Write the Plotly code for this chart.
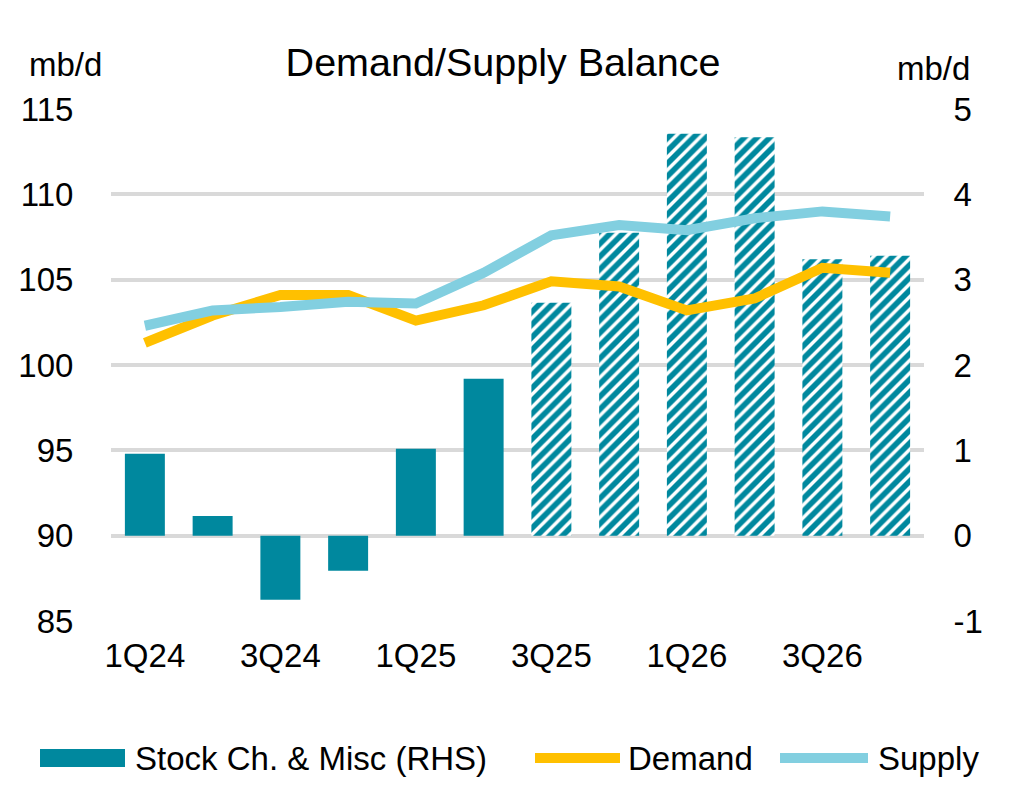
import plotly.graph_objects as go

quarters = ["1Q24", "2Q24", "3Q24", "4Q24", "1Q25", "2Q25",
            "3Q25", "4Q25", "1Q26", "2Q26", "3Q26", "4Q26"]
stock_change = [0.96, 0.23, -0.75, -0.41, 1.02, 1.84,
                2.73, 3.55, 4.71, 4.67, 3.24, 3.28]
demand = [101.3, 102.9, 104.1, 104.1, 102.6, 103.5,
          104.9, 104.6, 103.2, 103.9, 105.7, 105.4]
supply = [102.3, 103.2, 103.4, 103.7, 103.6, 105.4,
          107.6, 108.2, 107.9, 108.6, 109.0, 108.7]
n_actual = 6  # first 6 quarters are actuals, rest forecast (hatched)
rhs_ticks = [-1, 0, 1, 2, 3, 4, 5]
rhs_labels = ["-1", "0", "1", "2", "3", "4", "5"]

TEAL = "#00889e"
GOLD = "#ffc000"
LIGHTBLUE = "#82cfe0"
FONT = "Liberation Sans, Arial, sans-serif"

# the page body has an 8px margin, so work in screen px and shift
OFF = 8
W, H = 1024 - OFF, 789 - OFF
L, R, T, B = 111 - OFF, 924 - OFF, 109 - OFF, 621 - OFF


def px_x(p):
    return (p - OFF - L) / (R - L)


def px_y(p):
    return (B - (p - OFF)) / (B - T)


shapes_pat = [""] * n_actual + ["/"] * (len(quarters) - n_actual)

fig = go.Figure()

# bars on the RHS scale (base axis so the lines draw above them)
fig.add_trace(go.Bar(
    x=quarters, y=stock_change, name="Stock Ch. & Misc (RHS)",
    marker=dict(color=TEAL, line=dict(width=0),
                pattern=dict(shape=shapes_pat, fgcolor=TEAL, bgcolor="white",
                             size=9, solidity=0.62, fillmode="replace")),
    yaxis="y", showlegend=False,
))
fig.add_trace(go.Scatter(
    x=quarters, y=demand, name="Demand", mode="lines",
    line=dict(color=GOLD, width=10), yaxis="y2", showlegend=False,
))
fig.add_trace(go.Scatter(
    x=quarters, y=supply, name="Supply", mode="lines",
    line=dict(color=LIGHTBLUE, width=10), yaxis="y2", showlegend=False,
))

# legend drawn by hand so the swatches are wide like the original
legend_shapes = [
    dict(type="rect", xref="paper", yref="paper",
         x0=px_x(40), x1=px_x(125), y0=px_y(767), y1=px_y(749),
         fillcolor=TEAL, line=dict(width=0)),
    dict(type="line", xref="paper", yref="paper",
         x0=px_x(535), x1=px_x(620), y0=px_y(758), y1=px_y(758),
         line=dict(color=GOLD, width=10)),
    dict(type="line", xref="paper", yref="paper",
         x0=px_x(780), x1=px_x(868), y0=px_y(758), y1=px_y(758),
         line=dict(color=LIGHTBLUE, width=10)),
]
legend_text = [("Stock Ch. & Misc (RHS)", 133), ("Demand", 626), ("Supply", 876)]

annotations = [
    dict(text="mb/d", xref="paper", yref="paper", showarrow=False,
         x=px_x(27), xanchor="left", y=px_y(64), yanchor="middle",
         font=dict(size=33)),
    dict(text="mb/d", xref="paper", yref="paper", showarrow=False,
         x=px_x(972), xanchor="right", y=px_y(68), yanchor="middle",
         font=dict(size=33)),
]
for txt, xpos in legend_text:
    annotations.append(dict(text=txt, xref="paper", yref="paper",
                            showarrow=False, x=px_x(xpos), xanchor="left",
                            y=px_y(758), yanchor="middle",
                            font=dict(size=33)))

fig.update_layout(
    width=W, height=H,
    margin=dict(l=L, r=W - R, t=T, b=H - B),
    paper_bgcolor="white", plot_bgcolor="white",
    font=dict(family=FONT, size=33, color="black"),
    bargap=0.41,
    showlegend=False,
    title=dict(text="Demand/Supply Balance", x=(503 - OFF) / W,
               xanchor="center", y=1 - (62 - OFF) / H, yanchor="middle",
               yref="container",
               font=dict(size=39.5, family=FONT, color="black")),
    xaxis=dict(tickmode="array", tickvals=quarters[::2], showgrid=False,
               showline=False, ticks="outside", ticklen=0, automargin=False,
               ticklabelstandoff=5, tickfont=dict(size=33)),
    yaxis=dict(side="right", range=[-1, 5], tickmode="array",
               tickvals=rhs_ticks, ticktext=rhs_labels, showgrid=True,
               gridcolor="#d9d9d9", gridwidth=3.5, zeroline=False,
               ticks="outside", ticklen=0, ticklabelstandoff=22,
               automargin=False, tickfont=dict(size=33)),
    yaxis2=dict(side="left", overlaying="y", range=[85, 115], dtick=5,
                showgrid=False, zeroline=False, ticks="outside", ticklen=0,
                ticklabelstandoff=30, automargin=False,
                tickfont=dict(size=33)),
    shapes=legend_shapes,
    annotations=annotations,
)

fig.write_html("out.html")
